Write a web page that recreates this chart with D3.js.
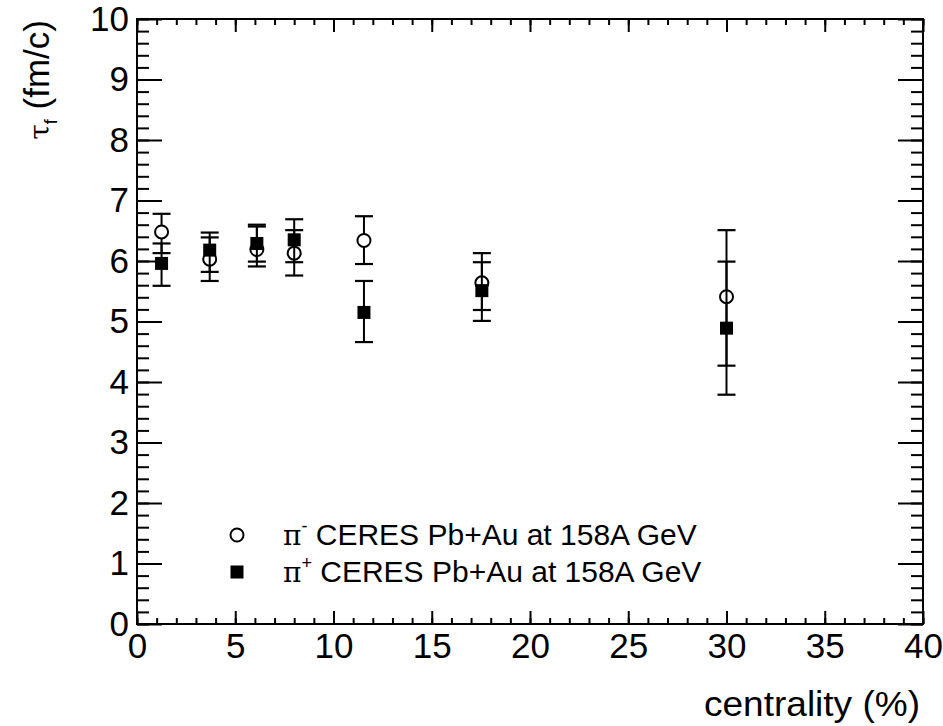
<!DOCTYPE html>
<html>
<head>
<meta charset="utf-8">
<script src="https://cdn.jsdelivr.net/npm/d3@7"></script>
<style>
  html, body { margin: 0; padding: 0; background: #fff; }
  svg text { font-family: "Liberation Sans", Arial, Helvetica, sans-serif; fill: #000; }
</style>
</head>
<body>
<svg id="chart" width="943" height="726"></svg>
<script>
// ---- data ----
const centrality = [1.25, 3.7, 6.1, 8.0, 11.55, 17.55, 30.0];
const piMinus    = [6.48, 6.03, 6.19, 6.13, 6.34, 5.64, 5.41];
const piMinusLo  = [6.13, 5.67, 5.91, 5.76, 5.95, 5.19, 4.27];
const piMinusHi  = [6.78, 6.39, 6.57, 6.51, 6.74, 6.13, 6.51];
const piPlus     = [5.96, 6.18, 6.29, 6.35, 5.15, 5.51, 4.89];
const piPlusLo   = [5.59, 5.82, 5.99, 5.98, 4.66, 5.01, 3.79];
const piPlusHi   = [6.29, 6.47, 6.60, 6.69, 5.67, 5.98, 5.99];
const xTicks = [0, 5, 10, 15, 20, 25, 30, 35, 40];
const yTicks = [0, 1, 2, 3, 4, 5, 6, 7, 8, 9, 10];
const legendLabels = ["CERES Pb+Au at 158A GeV", "CERES Pb+Au at 158A GeV"];
const legendCharges = ["-", "+"];

// ---- layout ----
const L = 137, R = 923, T = 19, B = 624;
const svg = d3.select("#chart");
const x = d3.scaleLinear().domain([0, 40]).range([L, R]);
const y = d3.scaleLinear().domain([0, 10]).range([B, T]);
const fs = 35;

function styleAxis(g) {
  g.select(".domain").remove();
  g.selectAll("line").attr("stroke", "#000").attr("stroke-width", 2);
  g.selectAll("text").attr("font-size", fs).attr("font-family", "Liberation Sans, Arial, sans-serif").attr("fill", "#000");
}
const xMinor = d3.range(0, 40.001, 1);
const yMinor = d3.range(0, 10.001, 0.2).map(v => +v.toFixed(2));

// bottom
svg.append("g").attr("transform", `translate(0,${B})`)
  .call(d3.axisBottom(x).tickValues(xMinor).tickSize(-6).tickFormat("")).call(styleAxis);
svg.append("g").attr("transform", `translate(0,${B})`)
  .call(d3.axisBottom(x).tickValues(xTicks).tickSizeInner(-13).tickSizeOuter(0).tickPadding(9).tickFormat(d3.format("d"))).call(styleAxis);
// top
svg.append("g").attr("transform", `translate(0,${T})`)
  .call(d3.axisTop(x).tickValues(xMinor).tickSize(-6).tickFormat("")).call(styleAxis);
svg.append("g").attr("transform", `translate(0,${T})`)
  .call(d3.axisTop(x).tickValues(xTicks).tickSize(-13).tickFormat("")).call(styleAxis);
// left
svg.append("g").attr("transform", `translate(${L},0)`)
  .call(d3.axisLeft(y).tickValues(yMinor).tickSize(-12).tickFormat("")).call(styleAxis);
svg.append("g").attr("transform", `translate(${L},0)`)
  .call(d3.axisLeft(y).tickValues(yTicks).tickSizeInner(-25).tickSizeOuter(0).tickPadding(8).tickFormat(d3.format("d"))).call(styleAxis);
// right
svg.append("g").attr("transform", `translate(${R},0)`)
  .call(d3.axisRight(y).tickValues(yMinor).tickSize(-12).tickFormat("")).call(styleAxis);
svg.append("g").attr("transform", `translate(${R},0)`)
  .call(d3.axisRight(y).tickValues(yTicks).tickSize(-25).tickFormat("")).call(styleAxis);

// frame
svg.append("rect").attr("x", L).attr("y", T).attr("width", R - L).attr("height", B - T)
  .attr("fill", "none").attr("stroke", "#000").attr("stroke-width", 2);

// axis titles
svg.append("text").attr("x", 920).attr("y", 716).attr("text-anchor", "end")
  .attr("font-size", 35).attr("textLength", 216).attr("lengthAdjust", "spacingAndGlyphs")
  .text("centrality (%)");
const yl = svg.append("text").attr("transform", "translate(49,20) rotate(-90)")
  .attr("text-anchor", "end").attr("font-size", fs);
yl.append("tspan").attr("font-family", "DejaVu Serif, serif").attr("font-size", 28).text("τ");
yl.append("tspan").attr("font-size", 18).attr("dy", 8).text("f");
yl.append("tspan").attr("dy", -8).text(" (fm/c)");

// data
const capW = 9, mr = 6.5, ms = 13;
function drawSeries(vals, lo, hi, kind) {
  const g = svg.append("g");
  centrality.forEach((c, i) => {
    const cx = x(c);
    g.append("line").attr("x1", cx).attr("x2", cx).attr("y1", y(lo[i])).attr("y2", y(hi[i]))
      .attr("stroke", "#000").attr("stroke-width", 2);
    [lo[i], hi[i]].forEach(v => g.append("line").attr("x1", cx - capW).attr("x2", cx + capW)
      .attr("y1", y(v)).attr("y2", y(v)).attr("stroke", "#000").attr("stroke-width", 2.2));
  });
  centrality.forEach((c, i) => {
    if (kind === "circle") {
      g.append("circle").attr("cx", x(c)).attr("cy", y(vals[i])).attr("r", mr)
        .attr("fill", "#fff").attr("stroke", "#000").attr("stroke-width", 2);
    } else {
      g.append("rect").attr("x", x(c) - ms / 2).attr("y", y(vals[i]) - ms / 2)
        .attr("width", ms).attr("height", ms).attr("fill", "#000");
    }
  });
}
drawSeries(piMinus, piMinusLo, piMinusHi, "circle");
drawSeries(piPlus, piPlusLo, piPlusHi, "square");

// legend
const legY = [535, 572];
svg.append("circle").attr("cx", 237).attr("cy", legY[0]).attr("r", mr)
  .attr("fill", "#fff").attr("stroke", "#000").attr("stroke-width", 2);
svg.append("rect").attr("x", 237 - ms / 2).attr("y", legY[1] - ms / 2).attr("width", ms).attr("height", ms).attr("fill", "#000");
legendLabels.forEach((lab, i) => {
  const t = svg.append("text").attr("x", 283).attr("y", legY[i] + 10).attr("font-size", 30);
  t.append("tspan").attr("font-family", "DejaVu Serif, serif").attr("font-size", 28).text("π");
  t.append("tspan").attr("font-size", 18).attr("dy", -13).text(legendCharges[i]);
  t.append("tspan").attr("dy", 13).text(" " + lab);
});
</script>
</body>
</html>
